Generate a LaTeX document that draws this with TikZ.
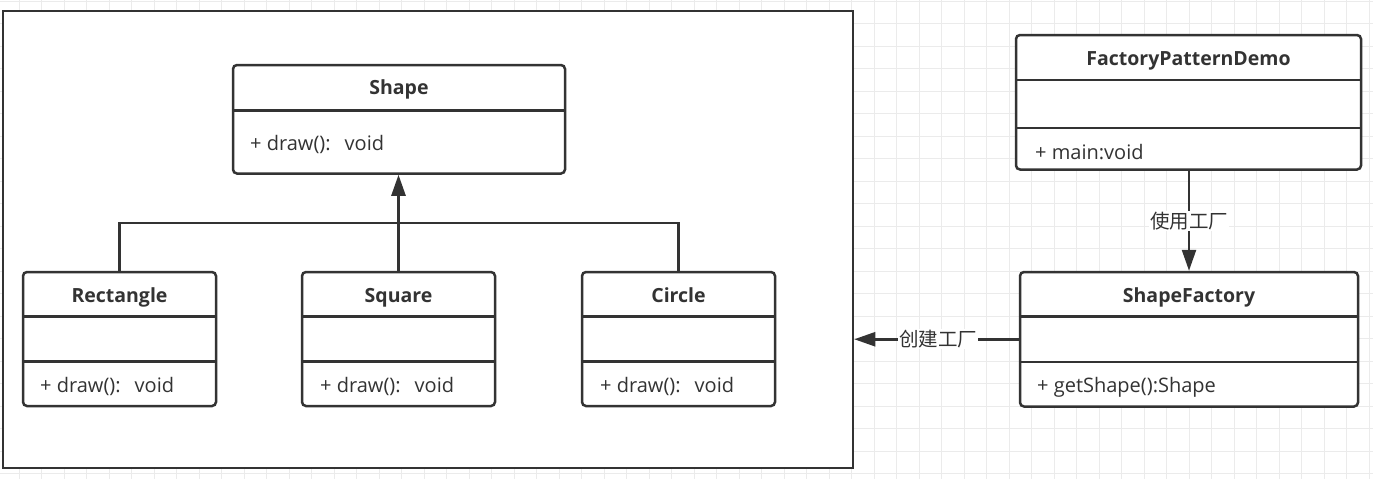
\documentclass[tikz,border=0pt]{standalone}
\usepackage{fontspec}
\setmainfont{Open Sans}
\newfontfamily\cjk{Noto Sans CJK SC}
\usetikzlibrary{arrows.meta}
\definecolor{ink}{HTML}{333333}
\definecolor{gridc}{HTML}{EBEBEB}
\begin{document}
\begin{tikzpicture}[x=1pt,y=-1pt,
  every node/.style={text=ink, font=\fontsize{20}{24}\selectfont},
  frame/.style={draw=ink, line width=2.5pt, fill=white, inner sep=0pt},
  classbox/.style={draw=ink, line width=2.5pt, rounded corners=4pt, fill=white, inner sep=0pt},
  divider/.style={draw=ink, line width=2.2pt},
  title/.style={font=\fontsize{19.5}{23}\selectfont\bfseries, inner sep=0pt, anchor=base},
  member/.style={anchor=base west, inner sep=0pt, font=\fontsize{20}{24}\selectfont},
  conn/.style={draw=ink, line width=2.5pt},
  head/.style={-{Triangle[length=21pt,width=14pt]}},
  lbl/.style={fill=white, inner sep=1pt, font=\cjk\fontsize{19.5}{23}\selectfont}]
\useasboundingbox (0,0) rectangle (1373,479);
\fill[white] (0,0) rectangle (1373,479);
% grid
\foreach \i in {0,...,60} \draw[gridc, line width=1pt] ({19+22.5*\i},0) -- ({19+22.5*\i},479);
\foreach \j in {0,...,21} \draw[gridc, line width=1pt] (0,{1+22.5*\j}) -- (1373,{1+22.5*\j});
% outer frame
\node[frame, minimum width=850pt, minimum height=457pt] (big) at (428,239.5) {};
% Shape
\node[classbox, minimum width=332pt, minimum height=108.5pt] (shape) at (399,119.25) {};
\draw[divider] (233,110.5) -- (565,110.5);
\node[title] (shapeT) at (399,94.5) {Shape};
\node[member] (shapeB) at (250,150) {+ draw():\hspace{0.7em}void};
% children
\node[classbox, minimum width=193pt, minimum height=134pt] (rect) at (119.5,339) {};
\draw[divider] (23,316.5) -- (216,316.5);
\draw[divider] (23,361.5) -- (216,361.5);
\node[title] (rectT) at (119.5,302) {Rectangle};
\node[member] (rectB) at (40,392) {+ draw():\hspace{0.7em}void};
\node[classbox, minimum width=193pt, minimum height=134pt] (square) at (398.5,339) {};
\draw[divider] (302,316.5) -- (495,316.5);
\draw[divider] (302,361.5) -- (495,361.5);
\node[title] (squareT) at (398.5,302) {Square};
\node[member] (squareB) at (320,392) {+ draw():\hspace{0.7em}void};
\node[classbox, minimum width=193pt, minimum height=134pt] (circle) at (678.5,339) {};
\draw[divider] (582,316.5) -- (775,316.5);
\draw[divider] (582,361.5) -- (775,361.5);
\node[title] (circleT) at (678.5,302) {Circle};
\node[member] (circleB) at (600,392) {+ draw():\hspace{0.7em}void};
% inheritance
\coordinate (join) at (399,223);
\draw[conn] (rect.north) |- (join) -| (circle.north);
\draw[conn, head] (square.north) -- (square.north |- shape.south);
% FactoryPatternDemo
\node[classbox, minimum width=345pt, minimum height=134.5pt] (fpd) at (1188.5,102.25) {};
\draw[divider] (1016,80) -- (1361,80);
\draw[divider] (1016,128) -- (1361,128);
\node[title] (fpdT) at (1188.5,65) {FactoryPatternDemo};
\node[member] (fpdB) at (1035,159) {+ main:void};
% ShapeFactory
\node[classbox, minimum width=338pt, minimum height=134.5pt] (sf) at (1189,339.25) {};
\draw[divider] (1020,316.5) -- (1358,316.5);
\draw[divider] (1020,362) -- (1358,362);
\node[title] (sfT) at (1189,302) {ShapeFactory};
\node[member] (sfB) at (1037,392) {+ getShape():Shape};
% connectors
\draw[conn, head] (fpd.south -| sf.north) -- node[lbl] (use) {使用工厂} (sf.north);
\draw[conn, head] (sf.west) -- node[lbl, pos=0.49] (create) {创建工厂} (sf.west -| big.east);
\end{tikzpicture}
\end{document}
